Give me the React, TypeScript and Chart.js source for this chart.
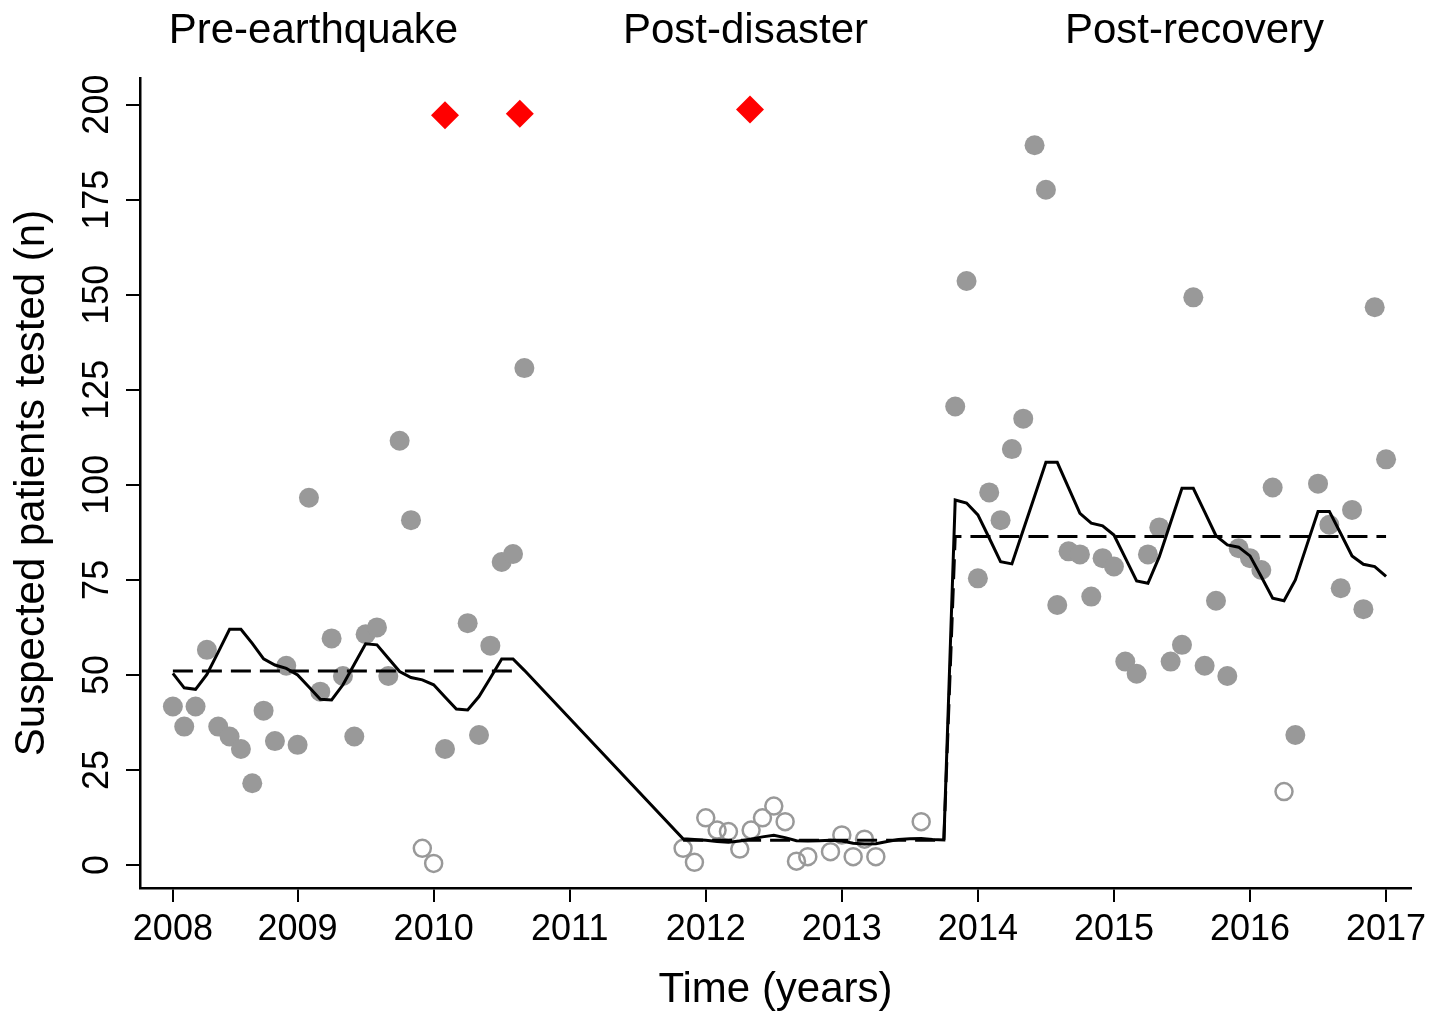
import React, { useEffect, useRef } from 'react';
import { Chart, registerables } from 'chart.js';

Chart.register(...registerables);

// Month index: 0 = Jan 2008 ... 107 = Dec 2016
const testedPerMonth: (number | null)[] = [
  41.7, 36.4, 41.7, 56.6, 36.4, 33.8, 30.5, 21.5, 40.6, 32.6, 52.4, 31.6,
  96.6, 45.6, 59.6, 49.7, 33.8, 60.7, 62.5, 49.7, 111.6, 90.7, 4.4, 0.4,
  30.5, null, 63.6, 34.2, 57.7, 79.7, 81.8, 130.7, null, null, null, null,
  null, null, null, null, null, null, null, null, null, 4.4, 0.7, 12.4,
  9.2, 8.8, 4.2, 9.2, 12.4, 15.5, 11.4, 1.0, 2.2, null, 3.5, 7.9,
  2.2, 6.8, 2.2, null, null, null, 11.4, null, null, 120.6, 153.6, 75.4,
  98.0, 90.7, 109.4, 117.4, 189.3, 177.6, 68.4, 82.5, 81.7, 70.6, 80.7, 78.5,
  53.5, 50.3, 81.7, 88.8, 53.5, 57.9, 149.3, 52.4, 69.5, 49.7, 83.3, 80.7,
  77.6, 99.3, 19.3, 34.2, null, 100.3, 89.5, 72.8, 93.4, 67.3, 146.7, 106.7,
];

// months drawn as hollow circles
const excludedMonths: number[] = [22, 23, 45, 46, 47, 48, 49, 50, 51, 52, 53, 54, 55, 56, 58, 59, 60, 61, 62, 66, 98];

const fittedPerMonth: (number | null)[] = [
  50.4, 46.6, 46.2, 50.1, 56.0, 62.0, 62.0, 58.3, 54.2, 52.6, 51.7, 50.0,
  46.8, 43.6, 43.4, 47.4, 52.8, 58.2, 57.9, 54.4, 50.9, 49.3, 48.7, 47.4,
  44.2, 41.0, 40.8, 44.3, 49.2, 54.2, 54.2, 51.2, null, null, null, null,
  null, null, null, null, null, null, null, null, null, 6.9, 6.7, 6.5,
  6.2, 6.0, 6.3, 6.8, 7.4, 7.8, 7.2, 6.4, 6.3, 6.4, 6.5, 6.3,
  5.7, 5.5, 5.6, 6.2, 6.7, 6.9, 7.0, 6.7, 6.6, 96.0, 95.2, 92.1,
  86.0, 79.8, 79.2, 88.1, 97.0, 105.9, 105.9, 99.2, 92.5, 89.9, 89.2, 86.8,
  80.8, 74.7, 74.1, 81.1, 90.1, 99.1, 99.1, 92.9, 86.6, 84.2, 83.6, 81.3,
  75.8, 70.2, 69.5, 75.0, 84.0, 93.0, 93.0, 87.2, 81.3, 79.1, 78.5, 75.9,
];

const periodNames: string[] = ['Pre-earthquake', 'Post-disaster', 'Post-recovery'];
const periodStartMonth: number[] = [0, 45, 69];
const periodEndMonth: number[] = [30, 68, 107];
const periodMeans: number[] = [51.0, 6.5, 86.4];
const periodLabelMonth: number[] = [12.4, 50.5, 90.1];

const eventMonths: number[] = [24.0, 30.6, 50.9];
const eventValues: number[] = [197.2, 197.6, 198.7];

const xTickMonths: number[] = [0, 11, 23, 35, 47, 59, 71, 83, 95, 107];
const xTickLabels: string[] = ['2008', '2009', '2010', '2011', '2012', '2013', '2014', '2015', '2016', '2017'];
const yTickValues: number[] = [0, 25, 50, 75, 100, 125, 150, 175, 200];

const FONT = '"Liberation Sans", Arial, Helvetica, sans-serif';

const periodLabelPlugin = {
  id: 'periodLabels',
  afterDraw(chart: any) {
    const { ctx } = chart;
    const xs = chart.scales.x;
    ctx.save();
    ctx.font = `42px ${FONT}`;
    ctx.fillStyle = '#000';
    ctx.textAlign = 'center';
    ctx.textBaseline = 'alphabetic';
    periodNames.forEach((name, i) => {
      ctx.fillText(name, xs.getPixelForValue(periodLabelMonth[i]), 43);
    });
    ctx.restore();
  },
};

export default function App() {
  const canvasRef = useRef<HTMLCanvasElement | null>(null);

  useEffect(() => {
    if (!canvasRef.current) return;

    const filled: { x: number; y: number }[] = [];
    const hollow: { x: number; y: number }[] = [];
    testedPerMonth.forEach((v, m) => {
      if (v === null) return;
      if (excludedMonths.includes(m)) hollow.push({ x: m, y: v });
      else filled.push({ x: m, y: v });
    });

    const fitted = fittedPerMonth
      .map((v, m) => (v === null ? null : { x: m, y: v }))
      .filter((p) => p !== null) as { x: number; y: number }[];

    const preMean = [
      { x: periodStartMonth[0], y: periodMeans[0] },
      { x: periodEndMonth[0], y: periodMeans[0] },
    ];
    const laterMeans = [
      { x: periodStartMonth[1], y: periodMeans[1] },
      { x: periodEndMonth[1], y: periodMeans[1] },
      { x: periodStartMonth[2], y: periodMeans[2] },
      { x: periodEndMonth[2], y: periodMeans[2] },
    ];
    const events = eventMonths.map((m, i) => ({ x: m, y: eventValues[i] }));

    const chart = new Chart(canvasRef.current, {
      type: 'scatter',
      data: {
        datasets: [
          {
            type: 'scatter',
            data: events,
            pointStyle: 'rectRot',
            pointRadius: 14,
            backgroundColor: '#ff0000',
            borderColor: '#ff0000',
            borderWidth: 0,
            order: 0,
          },
          {
            type: 'line',
            data: fitted,
            borderColor: '#000',
            borderWidth: 3,
            pointRadius: 0,
            tension: 0,
            fill: false,
            order: 1,
          },
          {
            type: 'line',
            data: preMean,
            borderColor: '#000',
            borderWidth: 3,
            borderDash: [20, 9],
            pointRadius: 0,
            fill: false,
            order: 1,
          },
          {
            type: 'line',
            data: laterMeans,
            borderColor: '#000',
            borderWidth: 3,
            borderDash: [20, 9],
            pointRadius: 0,
            fill: false,
            order: 1,
          },
          {
            type: 'scatter',
            data: filled,
            pointRadius: 10,
            backgroundColor: '#999999',
            borderWidth: 0,
            order: 2,
          },
          {
            type: 'scatter',
            data: hollow,
            pointRadius: 8.5,
            backgroundColor: 'rgba(0,0,0,0)',
            borderColor: '#999999',
            borderWidth: 2.5,
            order: 2,
          },
        ],
      } as any,
      options: {
        animation: false,
        responsive: true,
        maintainAspectRatio: false,
        layout: { autoPadding: false, padding: { top: 78, right: 33, bottom: 0, left: 0 } } as any,
        plugins: {
          legend: { display: false },
          tooltip: { enabled: false },
        },
        scales: {
          x: {
            type: 'linear',
            min: -2.9,
            max: 109.2,
            afterBuildTicks: (s: any) => {
              s.ticks = xTickMonths.map((v) => ({ value: v }));
            },
            afterFit: (s: any) => {
              s.height = 128;
            },
            ticks: {
              autoSkip: false,
              minRotation: 0,
              maxRotation: 0,
              padding: 6,
              color: '#000',
              font: { family: FONT, size: 36 },
              callback: (v: any) => xTickLabels[xTickMonths.indexOf(Number(v))],
            },
            grid: {
              display: true,
              drawOnChartArea: false,
              drawTicks: true,
              tickLength: 14,
              lineWidth: 2,
              color: '#000',
              tickColor: '#000',
            },
            border: { display: true, color: '#000', width: 2.5 },
            title: {
              display: true,
              text: 'Time (years)',
              color: '#000',
              font: { family: FONT, size: 42 },
              padding: { top: 0, bottom: 0 },
            },
          },
          y: {
            type: 'linear',
            min: -6.05,
            max: 207,
            afterBuildTicks: (s: any) => {
              s.ticks = yTickValues.map((v) => ({ value: v }));
            },
            afterFit: (s: any) => {
              s.width = 140;
            },
            ticks: {
              autoSkip: false,
              minRotation: 90,
              maxRotation: 90,
              crossAlign: 'center',
              padding: -2,
              color: '#000',
              font: { family: FONT, size: 36 },
              callback: (v: any) => String(v),
            },
            grid: {
              display: true,
              drawOnChartArea: false,
              drawTicks: true,
              tickLength: 14,
              lineWidth: 2,
              color: '#000',
              tickColor: '#000',
            },
            border: { display: true, color: '#000', width: 2.5 },
            title: {
              display: true,
              text: 'Suspected patients tested (n)',
              color: '#000',
              font: { family: FONT, size: 42 },
              padding: { top: 7, bottom: 0 },
            },
          },
        },
      } as any,
      plugins: [periodLabelPlugin],
    });

    return () => chart.destroy();
  }, []);

  return (
    <div style={{ position: 'fixed', left: 0, top: 0, width: 1444, height: 1016, background: '#fff' }}>
      <canvas ref={canvasRef} />
    </div>
  );
}
